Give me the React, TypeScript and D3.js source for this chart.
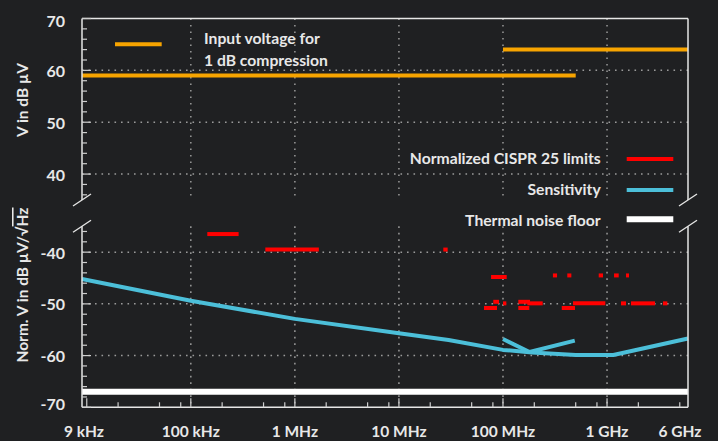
import React from 'react';
import * as d3 from 'd3';

const W = 718;
const H = 441;

// ---- data ----
const xTickFreqs = [9e3, 1e5, 1e6, 1e7, 1e8, 1e9, 6e9];
const xTickLabels = ['9 kHz', '100 kHz', '1 MHz', '10 MHz', '100 MHz', '1 GHz', '6 GHz'];
const upperTickValues = [40, 50, 60, 70];
const lowerTickValues = [-70, -60, -50, -40];

// Input voltage for 1 dB compression: [fStart, fEnd, dBµV]
const compressionSegments: [number, number, number][] = [
  [9e3, 500e6, 59],
  [100e6, 6e9, 64],
];

// Normalized CISPR 25 limits: [fStart, fEnd, dBµV/√Hz]
const cisprLimits: [number, number, number][] = [
  [144e3, 288e3, -36.5],
  [520e3, 1.7e6, -39.5],
  [26.7e6, 29.4e6, -39.5],
  [76.8e6, 108.6e6, -44.8],
  [302e6, 331e6, -44.5],
  [415e6, 454e6, -44.5],
  [832e6, 915e6, -44.5],
  [1.168e9, 1.295e9, -44.5],
  [1.522e9, 1.627e9, -44.5],
  [65.7e6, 87.6e6, -50.8],
  [80.7e6, 91.6e6, -49.6],
  [100e6, 107.7e6, -49.9],
  [140.4e6, 181.9e6, -49.6],
  [140.4e6, 179.1e6, -50.8],
  [171.4e6, 240.9e6, -49.9],
  [367e6, 492e6, -50.8],
  [471e6, 963e6, -49.9],
  [1.363e9, 1.522e9, -49.9],
  [1.7e9, 2.89e9, -49.9],
  [3.45e9, 3.8e9, -49.9],
];

// Sensitivity (main curve and high-band branch): [f, dBµV/√Hz]
const sensitivityMain: [number, number][] = [
  [9e3, -45.2],
  [100e3, -49.4],
  [1e6, -52.9],
  [10e6, -55.7],
  [30e6, -57.0],
  [100e6, -58.9],
  [190e6, -59.4],
  [500e6, -59.9],
  [1.15e9, -59.9],
  [6e9, -56.7],
];
const sensitivityBranch: [number, number][] = [
  [100e6, -56.8],
  [180e6, -59.3],
  [490e6, -57.1],
];

const noiseFloorLevel = -67;

// ---- styles ----
const BG = '#1f2022';
const TXT = '#e8e8e8';
const AXIS = '#e6e6e6';
const GRID = '#9a9a9a';
const ORANGE = '#f7a400';
const RED = '#ff0000';
const CYAN = '#4cbfd9';
const FONT = 'Lato, "Open Sans", sans-serif';

export default function App() {
  const left = 82, right = 688;
  const uTop = 18.5, uBot = 200;
  const lTop = 226.3, lBot = 407.3;

  const x = d3.scaleLog().domain([9e3, 6e9]).range([left, right]);
  const yU = d3.scaleLinear().domain([35, 70]).range([uBot, uTop]);
  const yL = d3.scaleLinear().domain([-70, -35]).range([lBot, lTop]);

  const lineL = d3
    .line<[number, number]>()
    .x((d) => x(d[0]))
    .y((d) => yL(d[1]));

  const gridDecades = [1e5, 1e6, 1e7, 1e8, 1e9];
  const minorX: { f: number; major: boolean }[] = [];
  for (let e = 4; e <= 9; e++) {
    for (const m of [1, 2, 5, 8]) {
      const f = m * Math.pow(10, e);
      if (f >= 9e3 && f <= 6e9) minorX.push({ f, major: m === 1 });
    }
  }
  const upperMinor = d3.range(36, 70.1, 2);
  const lowerMinor = d3.range(-70, -35.9, 2);

  const dotted = { stroke: GRID, strokeWidth: 1.5, strokeDasharray: '1.6 4.9', fill: 'none' };

  const slash = (cx: number, cy: number, key: string) => (
    <line key={key} x1={cx - 9} y1={cy + 6} x2={cx + 9} y2={cy - 6} stroke={AXIS} strokeWidth={1.3} />
  );

  return (
    <svg
      width={W}
      height={H}
      style={{ position: 'absolute', left: 0, top: 0, display: 'block' }}
      fontFamily={FONT}
    >
      <rect x={0} y={0} width={W} height={H} fill={BG} />

      {/* grid */}
      <g>
        {gridDecades.map((f) => (
          <g key={'vg' + f}>
            <line x1={x(f)} x2={x(f)} y1={uTop} y2={uBot} {...dotted} />
            <line x1={x(f)} x2={x(f)} y1={lTop} y2={lBot} {...dotted} />
          </g>
        ))}
        {[40, 50, 60].map((v) => (
          <line key={'hu' + v} x1={left} x2={right} y1={yU(v)} y2={yU(v)} {...dotted} />
        ))}
        {[-60, -50, -40].map((v) => (
          <line key={'hl' + v} x1={left} x2={right} y1={yL(v)} y2={yL(v)} {...dotted} />
        ))}
      </g>

      {/* compression lines */}
      {compressionSegments.map((s, i) => (
        <line key={'c' + i} x1={x(s[0])} x2={x(s[1])} y1={yU(s[2])} y2={yU(s[2])} stroke={ORANGE} strokeWidth={4} />
      ))}

      {/* noise floor */}
      <line x1={left} x2={right} y1={yL(noiseFloorLevel)} y2={yL(noiseFloorLevel)} stroke="#ffffff" strokeWidth={6} />

      {/* sensitivity */}
      <path d={lineL(sensitivityMain) || ''} fill="none" stroke={CYAN} strokeWidth={4} strokeLinejoin="round" />
      <path d={lineL(sensitivityBranch) || ''} fill="none" stroke={CYAN} strokeWidth={4} strokeLinejoin="round" />

      {/* CISPR limits */}
      {cisprLimits.map((s, i) => (
        <line key={'r' + i} x1={x(s[0])} x2={x(s[1])} y1={yL(s[2])} y2={yL(s[2])} stroke={RED} strokeWidth={4} />
      ))}

      {/* frame / axes */}
      <g stroke={AXIS} strokeWidth={1.5} fill="none">
        <line x1={left} x2={right} y1={uTop} y2={uTop} />
        <line x1={left} x2={left} y1={uTop} y2={uBot} />
        <line x1={right} x2={right} y1={uTop} y2={uBot} />
        <line x1={left} x2={left} y1={lTop} y2={lBot} />
        <line x1={right} x2={right} y1={lTop} y2={lBot} />
        <line x1={left} x2={right} y1={lBot} y2={lBot} />
      </g>
      {slash(left, uBot, 's1')}
      {slash(left, lTop, 's2')}
      {slash(right, uBot, 's3')}
      {slash(right, lTop, 's4')}

      {/* ticks */}
      <g stroke="#cfcfcf" strokeWidth={1.2}>
        {upperMinor.map((v) => (
          <line key={'tu' + v} x1={left} x2={left + (v % 10 === 0 ? 9 : 5)} y1={yU(v)} y2={yU(v)} />
        ))}
        {lowerMinor.map((v) => (
          <line key={'tl' + v} x1={left} x2={left + (v % 10 === 0 ? 9 : 5)} y1={yL(v)} y2={yL(v)} />
        ))}
        {minorX.map((t) => (
          <line key={'tx' + t.f} x1={x(t.f)} x2={x(t.f)} y1={lBot} y2={lBot - (t.major ? 9 : 5)} />
        ))}
      </g>

      {/* y tick labels */}
      <g fill={TXT} fontSize={16} fontWeight={700} textAnchor="end">
        {upperTickValues.map((v) => (
          <text key={'lu' + v} x={65} y={yU(v) + (v === 70 ? 2 : 0)} dominantBaseline="central">
            {v}
          </text>
        ))}
        {lowerTickValues.map((v) => (
          <text key={'ll' + v} x={65} y={yL(v) + (v === -70 ? -3.5 : 0)} dominantBaseline="central">
            {v}
          </text>
        ))}
      </g>

      {/* x tick labels */}
      <g fill={TXT} fontSize={15.5} fontWeight={700} textAnchor="middle">
        {xTickFreqs.map((f, i) => (
          <text key={'xl' + f} x={i === xTickFreqs.length - 1 ? x(f) - 8 : x(f) + (i === 0 ? 2 : 0)} y={437}>
            {xTickLabels[i]}
          </text>
        ))}
      </g>

      {/* axis titles */}
      <g fill={TXT} fontSize={15.5} fontWeight={700} textAnchor="middle">
        <text transform="translate(27.5,100) rotate(-90)">V in dB µV</text>
        <text transform="translate(28,285) rotate(-90)">
          Norm. V in dB µV/√<tspan style={{ textDecoration: 'overline' }}>Hz</tspan>
        </text>
      </g>

      {/* legends */}
      <line x1={115} x2={161.7} y1={44.3} y2={44.3} stroke={ORANGE} strokeWidth={4} />
      <g fill={TXT} fontSize={15.7} fontWeight={700}>
        <text x={204} y={43.5}>Input voltage for</text>
        <text x={204} y={66}>1 dB compression</text>
      </g>
      <g fill={TXT} fontSize={15.7} fontWeight={700} textAnchor="end">
        <text x={600.7} y={164}>Normalized CISPR 25 limits</text>
        <text x={600.7} y={195}>Sensitivity</text>
        <text x={600.7} y={226}>Thermal noise floor</text>
      </g>
      <line x1={626.7} x2={673.3} y1={159} y2={159} stroke={RED} strokeWidth={4} />
      <line x1={626.7} x2={673.3} y1={190} y2={190} stroke={CYAN} strokeWidth={4} />
      <line x1={626.7} x2={673.3} y1={219.3} y2={219.3} stroke="#ffffff" strokeWidth={6} />
    </svg>
  );
}
